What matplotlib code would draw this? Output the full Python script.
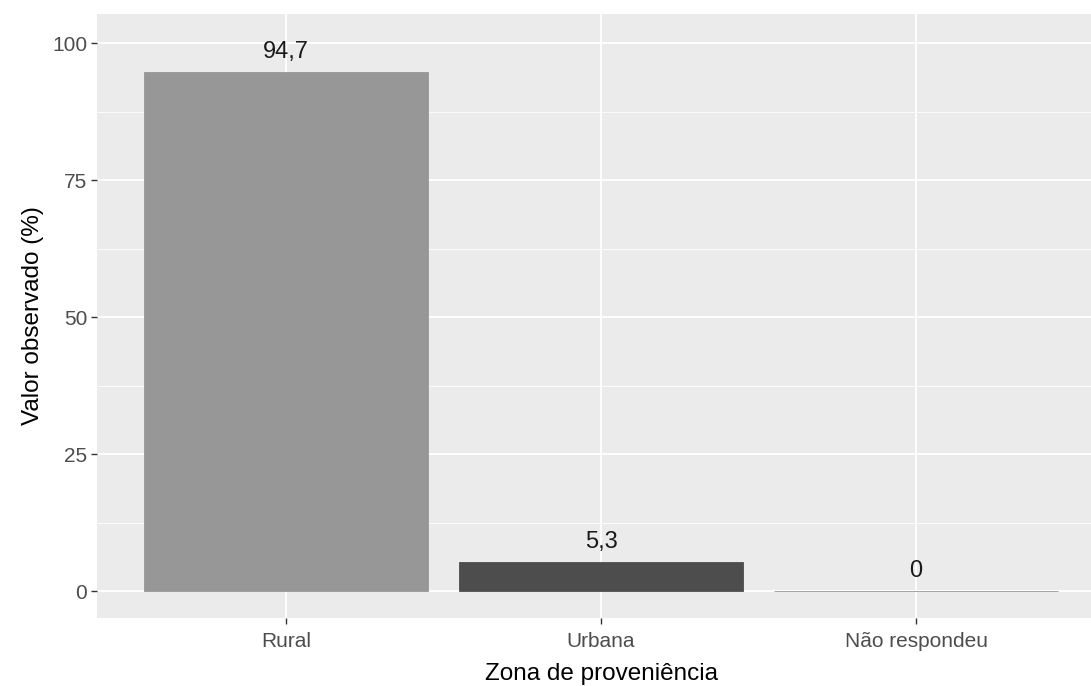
import matplotlib.pyplot as plt
import numpy as np

plt.rcParams["font.family"] = ["Liberation Sans", "DejaVu Sans"]

categories = ["Rural", "Urbana", "Não respondeu"]
values = [94.7, 5.3, 0.0]
labels = ["94,7", "5,3", "0"]
bar_colors = ["#979797", "#4d4d4d", "#979797"]
yticks = [0, 25, 50, 75, 100]

fig = plt.figure(figsize=(10.91, 6.86), dpi=100)
ax = fig.add_axes([0.0889, 0.0991, 0.924, 0.8805])
ax.set_facecolor("#ebebeb")

x = np.arange(1, len(categories) + 1)
ax.bar(x, values, width=0.9, color=bar_colors, edgecolor=bar_colors,
       linewidth=0.6, zorder=3)
for xi, v, lab in zip(x, values, labels):
    ax.text(xi, v + 1.6, lab, ha="center", va="bottom", fontsize=17,
            color="#1a1a1a", zorder=4)

ax.set_xlim(0.4, 3.6)
ax.set_ylim(-4.9, 105.3)
ax.set_xticks(x)
ax.set_xticklabels(categories)
ax.set_yticks(yticks)
ax.set_yticks([12.5, 37.5, 62.5, 87.5], minor=True)

ax.grid(which="major", color="white", linewidth=1.3, zorder=0)
ax.grid(which="minor", axis="y", color="white", linewidth=0.6, zorder=0)
ax.set_axisbelow(True)
for s in ax.spines.values():
    s.set_visible(False)
ax.tick_params(axis="both", which="major", length=4, width=1, color="#333333",
               labelcolor="#4d4d4d", labelsize=15)
ax.tick_params(axis="x", which="major", pad=6)
ax.tick_params(axis="y", which="major", pad=3)
ax.tick_params(axis="both", which="minor", length=0)

ax.set_xlabel("Zona de proveniência", fontsize=17.5, labelpad=9)
ax.set_ylabel("Valor observado (%)", fontsize=17.5, labelpad=6)

fig.savefig("out.png", dpi=100)
